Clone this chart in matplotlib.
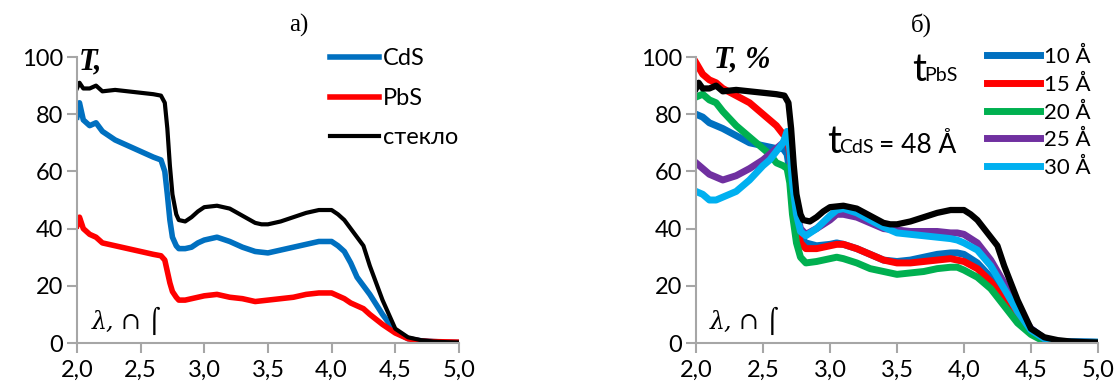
import matplotlib
matplotlib.use("Agg")
import matplotlib.pyplot as plt

# ---- data ----
x_glass = [2.0, 2.02, 2.05, 2.1, 2.15, 2.2, 2.3, 2.4, 2.5, 2.6, 2.66, 2.69, 2.71, 2.73, 2.75, 2.78, 2.8, 2.85, 2.9, 2.95, 3.0, 3.1, 3.2, 3.3, 3.4, 3.45, 3.5, 3.6, 3.7, 3.8, 3.9, 4.0, 4.05, 4.1, 4.2, 4.25, 4.3, 4.4, 4.5, 4.6, 4.7, 4.8, 4.9, 5.0]
T_glass = [89, 91, 89, 89, 90, 88, 88.5, 88, 87.5, 87, 86.5, 84, 75, 62, 52, 45, 43, 42.5, 44, 46, 47.5, 48, 47, 44.5, 42, 41.5, 41.5, 42.5, 44, 45.5, 46.5, 46.5, 45, 43, 37, 34, 27, 15, 5, 2, 1, 0.5, 0.3, 0.2]

x_cds = [2.0, 2.02, 2.05, 2.1, 2.15, 2.2, 2.3, 2.4, 2.5, 2.6, 2.66, 2.69, 2.71, 2.73, 2.75, 2.78, 2.8, 2.85, 2.9, 2.95, 3.0, 3.1, 3.2, 3.3, 3.4, 3.5, 3.6, 3.7, 3.8, 3.9, 4.0, 4.05, 4.1, 4.15, 4.2, 4.25, 4.3, 4.4, 4.5, 4.6, 4.7, 4.8, 4.9, 5.0]
T_cds = [79, 84, 78, 76, 77, 74, 71, 69, 67, 65, 64, 60, 52, 43, 37, 34, 33, 33, 33.5, 35, 36, 37, 35.5, 33.5, 32, 31.5, 32.5, 33.5, 34.5, 35.5, 35.5, 34, 32, 28, 23, 20, 17, 10, 4, 1.5, 0.8, 0.5, 0.3, 0.2]

x_pbs = [2.0, 2.02, 2.05, 2.1, 2.15, 2.2, 2.3, 2.4, 2.5, 2.6, 2.66, 2.69, 2.71, 2.73, 2.75, 2.78, 2.8, 2.85, 2.9, 3.0, 3.1, 3.2, 3.3, 3.4, 3.5, 3.6, 3.7, 3.8, 3.9, 4.0, 4.05, 4.1, 4.15, 4.2, 4.25, 4.3, 4.4, 4.5, 4.6, 4.7, 4.8, 4.9, 5.0]
T_pbs = [41, 44, 40, 38, 37, 35, 34, 33, 32, 31, 30.5, 29, 25, 21, 18, 16, 15, 15, 15.5, 16.5, 17, 16, 15.5, 14.5, 15, 15.5, 16, 17, 17.5, 17.5, 16.5, 15.5, 14, 13, 12, 10, 6.5, 3.5, 1.5, 0.7, 0.5, 0.4, 0.3]

x_b = [2.0, 2.05, 2.1, 2.15, 2.2, 2.3, 2.4, 2.5, 2.55, 2.6, 2.65, 2.68, 2.7, 2.72, 2.75, 2.78, 2.82, 2.9, 3.0, 3.05, 3.1, 3.2, 3.3, 3.4, 3.5, 3.6, 3.7, 3.8, 3.9, 3.95, 4.0, 4.1, 4.2, 4.3, 4.4, 4.5, 4.6, 4.7, 4.8, 4.9, 5.0]
T_10 = [80, 79, 77, 76, 75, 72.5, 70, 69, 68.5, 68, 68, 66, 60, 50, 42, 37, 35, 34, 34.5, 35, 34.5, 33, 31, 29, 28.5, 29, 30, 31, 31.5, 31.5, 31, 28, 23, 16.5, 10, 5, 1.5, 0.5, 0.4, 0.3, 0.2]
T_15 = [98, 94, 92, 91, 89, 86.5, 84, 80, 78, 76, 73, 72, 66, 55, 42, 35, 33, 33, 34, 34.5, 34.5, 33, 31, 29, 28, 28, 28.5, 29, 29.5, 29, 28.5, 26, 21.5, 15, 9, 4, 1, 0.5, 0.4, 0.3, 0.2]
T_20 = [86, 87, 85, 84, 81, 76, 72, 68, 66, 63, 62, 61, 56, 45, 35, 30, 28, 28.5, 29.5, 30, 29.5, 28, 26, 25, 24, 24.5, 25, 26, 26.5, 26.5, 25.5, 23, 19, 13, 7, 3, 0.5, 0.3, 0.3, 0.2, 0.2]
T_25 = [63, 61, 59, 58, 57, 58.5, 61, 64, 66, 68, 70, 72, 69, 58, 46, 40, 38, 40, 43, 45, 45, 44, 42, 40, 39.5, 39, 39, 39, 38.5, 38.5, 38, 35, 29, 21, 12, 5, 1.5, 0.5, 0.4, 0.3, 0.2]
T_30 = [53, 52, 50, 50, 51, 53, 57, 62, 64, 67, 70, 74, 68, 56, 45, 39, 37.5, 40, 44.5, 46.5, 47, 45.5, 43, 40.5, 38.5, 38, 37.5, 37, 36.5, 36, 35, 32.5, 27, 19, 11, 4.5, 1.5, 0.6, 0.4, 0.4, 0.3]

labels_a = ["CdS", "PbS", "стекло"]
labels_b = ["10 Å", "15 Å", "20 Å", "25 Å", "30 Å"]
xticks = [2.0, 2.5, 3.0, 3.5, 4.0, 4.5, 5.0]
xticklabels = ["2,0", "2,5", "3,0", "3,5", "4,0", "4,5", "5,0"]
yticks = [0, 20, 40, 60, 80, 100]

C_BLUE = "#0070C0"
C_RED = "#FF0000"
C_GREEN = "#00B050"
C_PURPLE = "#7030A0"
C_LBLUE = "#00B0F0"
C_BLACK = "#000000"

plt.rcParams['font.family'] = ['Lato', 'DejaVu Sans']

fig = plt.figure(figsize=(11.15, 3.9), dpi=100)
ax1 = fig.add_axes([0.069, 0.1205, 0.3426, 0.7333])
ax2 = fig.add_axes([0.6242, 0.1205, 0.3605, 0.7333])

def style(ax):
    ax.set_xlim(2.0, 5.0)
    ax.set_ylim(0, 100)
    ax.set_xticks(xticks)
    ax.set_xticklabels(xticklabels)
    ax.set_yticks(yticks)
    for s in ["top", "right"]:
        ax.spines[s].set_visible(False)
    for s in ["left", "bottom"]:
        ax.spines[s].set_color("#A6A6A6")
        ax.spines[s].set_linewidth(1.5)
    ax.tick_params(axis='both', colors="#A6A6A6", length=7, width=1.5, labelsize=17)
    ax.tick_params(axis='x', pad=5)
    ax.tick_params(axis='y', pad=3)
    for lbl in ax.get_xticklabels() + ax.get_yticklabels():
        lbl.set_color("black")

style(ax1)
style(ax2)

sym = ["DejaVu Serif", "DejaVu Sans"]

# panel a
l1, = ax1.plot(x_cds, T_cds, color=C_BLUE, lw=4)
l2, = ax1.plot(x_pbs, T_pbs, color=C_RED, lw=4)
l3, = ax1.plot(x_glass, T_glass, color=C_BLACK, lw=3)
ax1.legend([l1, l2, l3], labels_a, loc="upper left", bbox_to_anchor=(0.662, 1.03),
           frameon=False, fontsize=17, handlelength=2.1, handletextpad=0.15,
           labelspacing=0.78, borderaxespad=0, borderpad=0)
ax1.text(0.58, 1.09, "а)", transform=ax1.transAxes,
         fontsize=18, family="Liberation Serif", ha="center", va="baseline")
ax1.text(0.005, 1.035, "T,", transform=ax1.transAxes, fontsize=22, family="Liberation Serif",
         fontweight="bold", fontstyle="italic", va="top", ha="left")
ax1.text(0.04, 0.028, "λ, ∩ ⌠", transform=ax1.transAxes, fontsize=17, family=sym,
         fontstyle="italic", va="bottom", ha="left")

# panel b
hs = []
for T, c in zip([T_10, T_15, T_20, T_25, T_30], [C_BLUE, C_RED, C_GREEN, C_PURPLE, C_LBLUE]):
    h, = ax2.plot(x_b, T, color=c, lw=5)
    hs.append(h)
ax2.plot(x_glass, T_glass, color=C_BLACK, lw=4.5)
ax2.legend(hs, labels_b, loc="upper left", bbox_to_anchor=(0.724, 1.035),
           frameon=False, fontsize=16, handlelength=2.4, handletextpad=0.15,
           labelspacing=0.34, borderaxespad=0, borderpad=0)
ax2.text(0.56, 1.09, "б)", transform=ax2.transAxes,
         fontsize=18, family="Liberation Serif", ha="center", va="baseline")
ax2.text(0.045, 1.04, "T, %", transform=ax2.transAxes, fontsize=22, family="Liberation Serif",
         fontweight="bold", fontstyle="italic", va="top", ha="left")
ax2.text(0.538, 0.915, "t", transform=ax2.transAxes, fontsize=28, va="baseline", ha="left")
ax2.text(0.568, 0.915, "PbS", transform=ax2.transAxes, fontsize=14, va="baseline", ha="left")
ax2.text(0.326, 0.665, "t", transform=ax2.transAxes, fontsize=28, va="baseline", ha="left")
ax2.text(0.356, 0.665, "CdS", transform=ax2.transAxes, fontsize=14, va="baseline", ha="left")
ax2.text(0.455, 0.665, "= 48 Å", transform=ax2.transAxes, fontsize=19, va="baseline", ha="left")
ax2.text(0.035, 0.028, "λ, ∩ ⌠", transform=ax2.transAxes, fontsize=17, family=sym,
         fontstyle="italic", va="bottom", ha="left")

fig.savefig("out.png", dpi=100)
